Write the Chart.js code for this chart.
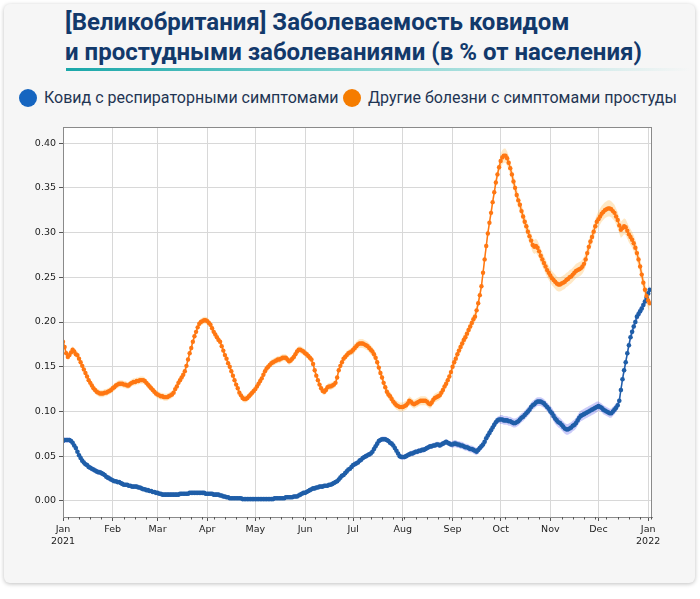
<!DOCTYPE html>
<html>
<head>
<meta charset="utf-8">
<script src="https://cdn.jsdelivr.net/npm/chart.js@4"></script>
<style>
  html, body { margin: 0; padding: 0; background: #fff; }
  body { width: 700px; height: 599px; position: relative; overflow: hidden; font-family: Roboto, "Noto Sans", sans-serif; }
  .card { position: absolute; left: 4px; top: 4px; width: 691px; height: 579px; background: #f6f6f6; border-radius: 6px; box-shadow: 0 1px 4px rgba(0,0,0,0.25); }
  h1 { position: absolute; left: 65px; top: 7px; margin: 0; font-size: 24px; line-height: 30px; font-weight: 700; color: #12396b; white-space: nowrap; }
  .rule { position: absolute; left: 66px; top: 68px; width: 625px; height: 3px; background: linear-gradient(to right, #1aa7a9, #7fd3d0 45%, rgba(246,246,246,0) 100%); }
  .legend { position: absolute; top: 87px; height: 22px; font-size: 16px; line-height: 22px; color: #1f3553; white-space: nowrap; }
  .dot { position: absolute; top: 89px; width: 18px; height: 18px; border-radius: 50%; }
  canvas { position: absolute; left: 0; top: 0; }
</style>
</head>
<body>
<div class="card"></div>
<h1>[Великобритания] Заболеваемость ковидом<br>и простудными заболеваниями (в % от населения)</h1>
<div class="rule"></div>
<div class="dot" style="left:19px;background:#1565c0"></div>
<div class="legend" style="left:44px">Ковид с респираторными симптомами</div>
<div class="dot" style="left:343px;background:#f57c00"></div>
<div class="legend" style="left:368px">Другие болезни с симптомами простуды</div>
<canvas id="chart" width="700" height="599"></canvas>
<script>
// daily values from 1 Jan 2021 (day 0) to 2 Jan 2022 (day 366), % of population
const covid = [
  0.067, 0.068, 0.068, 0.068, 0.068, 0.067, 0.065, 0.062, 0.059, 0.055,
  0.051, 0.048, 0.045, 0.043, 0.041, 0.040, 0.038, 0.037, 0.036, 0.035,
  0.034, 0.033, 0.032, 0.032, 0.031, 0.030, 0.029, 0.027, 0.026, 0.025,
  0.024, 0.023, 0.022, 0.022, 0.021, 0.021, 0.020, 0.019, 0.018, 0.018,
  0.018, 0.017, 0.017, 0.016, 0.016, 0.016, 0.016, 0.015, 0.015, 0.014,
  0.013, 0.013, 0.012, 0.012, 0.011, 0.011, 0.010, 0.010, 0.009, 0.009,
  0.008, 0.008, 0.007, 0.007, 0.007, 0.007, 0.007, 0.007, 0.007, 0.007,
  0.007, 0.007, 0.007, 0.008, 0.008, 0.008, 0.008, 0.008, 0.008, 0.009,
  0.009, 0.009, 0.009, 0.009, 0.009, 0.009, 0.009, 0.009, 0.009, 0.008,
  0.008, 0.008, 0.008, 0.008, 0.007, 0.007, 0.007, 0.007, 0.006, 0.006,
  0.005, 0.005, 0.004, 0.004, 0.003, 0.003, 0.003, 0.003, 0.003, 0.003,
  0.003, 0.003, 0.002, 0.002, 0.002, 0.002, 0.002, 0.002, 0.002, 0.002,
  0.002, 0.002, 0.002, 0.002, 0.002, 0.002, 0.002, 0.002, 0.002, 0.002,
  0.002, 0.002, 0.003, 0.003, 0.003, 0.003, 0.003, 0.003, 0.003, 0.004,
  0.004, 0.004, 0.004, 0.004, 0.005, 0.005, 0.005, 0.006, 0.007, 0.008,
  0.009, 0.009, 0.010, 0.011, 0.012, 0.013, 0.014, 0.014, 0.015, 0.015,
  0.016, 0.016, 0.016, 0.017, 0.017, 0.017, 0.018, 0.018, 0.019, 0.020,
  0.021, 0.022, 0.024, 0.026, 0.028, 0.029, 0.031, 0.033, 0.035, 0.036,
  0.038, 0.040, 0.041, 0.042, 0.043, 0.045, 0.046, 0.048, 0.049, 0.050,
  0.051, 0.052, 0.053, 0.055, 0.058, 0.061, 0.064, 0.067, 0.068, 0.069,
  0.069, 0.069, 0.068, 0.067, 0.065, 0.064, 0.062, 0.059, 0.056, 0.053,
  0.050, 0.049, 0.049, 0.049, 0.050, 0.051, 0.052, 0.053, 0.053, 0.054,
  0.055, 0.055, 0.056, 0.056, 0.057, 0.057, 0.058, 0.059, 0.060, 0.061,
  0.061, 0.062, 0.062, 0.063, 0.063, 0.062, 0.063, 0.064, 0.065, 0.066,
  0.065, 0.064, 0.063, 0.063, 0.064, 0.064, 0.063, 0.063, 0.062, 0.062,
  0.061, 0.060, 0.060, 0.059, 0.058, 0.058, 0.057, 0.056, 0.055, 0.057,
  0.059, 0.061, 0.063, 0.066, 0.070, 0.073, 0.076, 0.079, 0.082, 0.085,
  0.088, 0.090, 0.091, 0.091, 0.091, 0.090, 0.090, 0.090, 0.089, 0.089,
  0.088, 0.087, 0.087, 0.088, 0.089, 0.091, 0.093, 0.094, 0.096, 0.098,
  0.100, 0.102, 0.105, 0.107, 0.108, 0.110, 0.111, 0.111, 0.111, 0.110,
  0.109, 0.107, 0.105, 0.103, 0.100, 0.098, 0.095, 0.092, 0.090, 0.088,
  0.087, 0.085, 0.083, 0.081, 0.080, 0.080, 0.081, 0.082, 0.084, 0.085,
  0.087, 0.090, 0.093, 0.095, 0.096, 0.097, 0.098, 0.099, 0.100, 0.101,
  0.102, 0.103, 0.104, 0.105, 0.106, 0.105, 0.104, 0.102, 0.101, 0.100,
  0.099, 0.098, 0.098, 0.100, 0.102, 0.104, 0.107, 0.112, 0.124, 0.136,
  0.146, 0.155, 0.165, 0.174, 0.183, 0.189, 0.195, 0.200, 0.206, 0.209,
  0.212, 0.215, 0.219, 0.223, 0.227, 0.232, 0.236
];

const other = [
  0.178, 0.172, 0.165, 0.161, 0.163, 0.166, 0.169, 0.167, 0.164, 0.163,
  0.159, 0.155, 0.151, 0.147, 0.143, 0.139, 0.135, 0.132, 0.129, 0.126,
  0.124, 0.122, 0.121, 0.120, 0.120, 0.120, 0.121, 0.121, 0.122, 0.123,
  0.124, 0.126, 0.127, 0.129, 0.130, 0.131, 0.131, 0.131, 0.130, 0.130,
  0.129, 0.129, 0.131, 0.132, 0.133, 0.133, 0.134, 0.134, 0.135, 0.135,
  0.135, 0.134, 0.132, 0.130, 0.128, 0.126, 0.124, 0.122, 0.120, 0.119,
  0.118, 0.117, 0.117, 0.116, 0.116, 0.116, 0.117, 0.118, 0.119, 0.121,
  0.125, 0.128, 0.132, 0.135, 0.138, 0.141, 0.145, 0.151, 0.158, 0.165,
  0.171, 0.178, 0.184, 0.189, 0.194, 0.198, 0.200, 0.201, 0.202, 0.202,
  0.201, 0.199, 0.197, 0.193, 0.189, 0.186, 0.183, 0.180, 0.178, 0.173,
  0.168, 0.163, 0.159, 0.154, 0.150, 0.145, 0.140, 0.135, 0.130, 0.126,
  0.121, 0.118, 0.115, 0.114, 0.114, 0.115, 0.117, 0.119, 0.121, 0.123,
  0.125, 0.128, 0.131, 0.134, 0.137, 0.141, 0.145, 0.148, 0.150, 0.152,
  0.154, 0.155, 0.156, 0.157, 0.158, 0.158, 0.159, 0.160, 0.160, 0.160,
  0.158, 0.156, 0.157, 0.159, 0.161, 0.164, 0.167, 0.169, 0.169, 0.168,
  0.167, 0.165, 0.164, 0.162, 0.160, 0.158, 0.153, 0.146, 0.140, 0.135,
  0.130, 0.126, 0.123, 0.122, 0.124, 0.127, 0.128, 0.128, 0.129, 0.130,
  0.132, 0.138, 0.146, 0.151, 0.155, 0.159, 0.161, 0.163, 0.165, 0.166,
  0.167, 0.169, 0.171, 0.173, 0.175, 0.176, 0.176, 0.176, 0.175, 0.174,
  0.173, 0.171, 0.169, 0.167, 0.164, 0.160, 0.155, 0.149, 0.143, 0.138,
  0.132, 0.127, 0.122, 0.119, 0.117, 0.114, 0.111, 0.109, 0.107, 0.106,
  0.105, 0.105, 0.105, 0.106, 0.107, 0.109, 0.112, 0.111, 0.109, 0.108,
  0.109, 0.110, 0.111, 0.112, 0.112, 0.112, 0.112, 0.111, 0.109, 0.108,
  0.110, 0.113, 0.115, 0.116, 0.117, 0.118, 0.121, 0.124, 0.128, 0.131,
  0.135, 0.139, 0.144, 0.150, 0.155, 0.159, 0.164, 0.168, 0.172, 0.176,
  0.180, 0.183, 0.187, 0.191, 0.195, 0.199, 0.203, 0.206, 0.213, 0.221,
  0.230, 0.240, 0.255, 0.270, 0.285, 0.299, 0.311, 0.322, 0.334, 0.345,
  0.356, 0.365, 0.373, 0.380, 0.384, 0.386, 0.386, 0.383, 0.378, 0.372,
  0.365, 0.357, 0.350, 0.342, 0.336, 0.331, 0.324, 0.318, 0.312, 0.307,
  0.301, 0.296, 0.291, 0.286, 0.284, 0.285, 0.283, 0.279, 0.274, 0.270,
  0.266, 0.262, 0.258, 0.255, 0.252, 0.249, 0.247, 0.245, 0.243, 0.242,
  0.242, 0.243, 0.244, 0.245, 0.247, 0.248, 0.250, 0.251, 0.253, 0.255,
  0.257, 0.258, 0.259, 0.260, 0.262, 0.265, 0.270, 0.277, 0.284, 0.290,
  0.295, 0.301, 0.307, 0.312, 0.315, 0.318, 0.321, 0.323, 0.325, 0.326,
  0.327, 0.327, 0.326, 0.324, 0.322, 0.318, 0.314, 0.308, 0.303, 0.305,
  0.307, 0.306, 0.302, 0.298, 0.295, 0.292, 0.288, 0.283, 0.277, 0.270,
  0.262, 0.253, 0.244, 0.236, 0.229, 0.224, 0.221
];

// half-width of the shaded uncertainty band, read per month (Jan..Dec, Jan 2022)
const covidBand = [0.003, 0.002, 0.002, 0.002, 0.002, 0.002, 0.003, 0.003, 0.004, 0.005, 0.006, 0.005, 0.005];
const otherBand = [0.004, 0.004, 0.004, 0.004, 0.004, 0.004, 0.005, 0.005, 0.006, 0.008, 0.008, 0.009, 0.009];

// x axis: month starts in days since 1 Jan 2021
const monthStarts = [0, 31, 59, 90, 120, 151, 181, 212, 243, 273, 304, 334, 365];
const monthLabels = ['Jan', 'Feb', 'Mar', 'Apr', 'May', 'Jun', 'Jul', 'Aug', 'Sep', 'Oct', 'Nov', 'Dec', 'Jan'];
const yearLabels = { 0: '2021', 12: '2022' };
const firstMonday = 3; // 4 Jan 2021
const yTicks = [0, 0.05, 0.10, 0.15, 0.20, 0.25, 0.30, 0.35, 0.40];

function monthOf(day) {
  let m = 0;
  for (let i = 0; i < monthStarts.length; i++) if (day >= monthStarts[i]) m = i;
  return m;
}
const pts = arr => arr.map((v, i) => ({ x: i, y: v }));
const band = (arr, hw, sign) => arr.map((v, i) => ({ x: i, y: v + sign * hw[monthOf(i)] }));

const BLUE = '#1f5ea8';
const ORANGE = '#ff7712';

const frame = {
  id: 'frame',
  beforeDraw(chart) {
    const { ctx, chartArea: a } = chart;
    ctx.save();
    ctx.fillStyle = '#ffffff';
    ctx.fillRect(a.left, a.top, a.right - a.left, a.bottom - a.top);
    ctx.restore();
  },
  afterDraw(chart) {
    const { ctx, chartArea: a } = chart;
    const xs = chart.scales.x;
    ctx.save();
    ctx.strokeStyle = '#8a8a8a';
    ctx.lineWidth = 1;
    ctx.strokeRect(a.left + 0.5, a.top + 0.5, a.right - a.left - 1, a.bottom - a.top);
    // weekly minor ticks (Mondays)
    ctx.strokeStyle = '#555';
    for (let d = firstMonday; d <= xs.max; d += 7) {
      if (monthStarts.includes(d)) continue;
      const px = Math.round(xs.getPixelForValue(d)) + 0.5;
      ctx.beginPath();
      ctx.moveTo(px, a.bottom);
      ctx.lineTo(px, a.bottom + 2.5);
      ctx.stroke();
    }
    ctx.restore();
  }
};

const tickFont = { family: 'DejaVu Sans', size: 9.5, lineHeight: 1.3 };

new Chart(document.getElementById('chart'), {
  type: 'line',
  data: {
    datasets: [
      { data: band(other, otherBand, -1), borderWidth: 0, pointRadius: 0, fill: false, order: 3 },
      { data: band(other, otherBand, 1), borderWidth: 0, pointRadius: 0, fill: '-1', backgroundColor: 'rgba(255,170,40,0.27)', order: 3 },
      { data: band(covid, covidBand, -1), borderWidth: 0, pointRadius: 0, fill: false, order: 3 },
      { data: band(covid, covidBand, 1), borderWidth: 0, pointRadius: 0, fill: '-1', backgroundColor: 'rgba(70,70,235,0.28)', order: 3 },
      { label: 'Ковид с респираторными симптомами', data: pts(covid), borderColor: BLUE, backgroundColor: BLUE,
        borderWidth: 1.5, pointRadius: 2.3, pointBorderWidth: 0, tension: 0, fill: false, order: 2 },
      { label: 'Другие болезни с симптомами простуды', data: pts(other), borderColor: ORANGE, backgroundColor: ORANGE,
        borderWidth: 1.5, pointRadius: 2.2, pointBorderWidth: 0, tension: 0, fill: false, order: 1 }
    ]
  },
  options: {
    responsive: false,
    animation: false,
    devicePixelRatio: 1,
    events: [],
    layout: { padding: { left: 13, top: 127, right: 48, bottom: 42 } },
    plugins: { legend: { display: false }, tooltip: { enabled: false } },
    scales: {
      x: {
        type: 'linear',
        min: 0,
        max: 367.4,
        afterBuildTicks: s => { s.ticks = monthStarts.map(v => ({ value: v })); },
        afterFit: s => { s.height = 40; },
        ticks: {
          autoSkip: false, maxRotation: 0, padding: 2, color: '#222', font: tickFont,
          callback: (v, i) => yearLabels[i] ? [monthLabels[i], yearLabels[i]] : monthLabels[i]
        },
        grid: { color: '#d8d8d8', tickColor: '#555', tickLength: 4 },
        border: { color: '#8a8a8a' }
      },
      y: {
        min: -0.018,
        max: 0.418,
        afterBuildTicks: s => { s.ticks = yTicks.map(v => ({ value: v })); },
        afterFit: s => { s.width = 50; },
        ticks: { padding: 3, color: '#222', font: tickFont, callback: v => v.toFixed(2) },
        grid: { color: '#d8d8d8', tickColor: '#555', tickLength: 4 },
        border: { color: '#8a8a8a' }
      }
    }
  },
  plugins: [frame]
});
</script>
</body>
</html>
